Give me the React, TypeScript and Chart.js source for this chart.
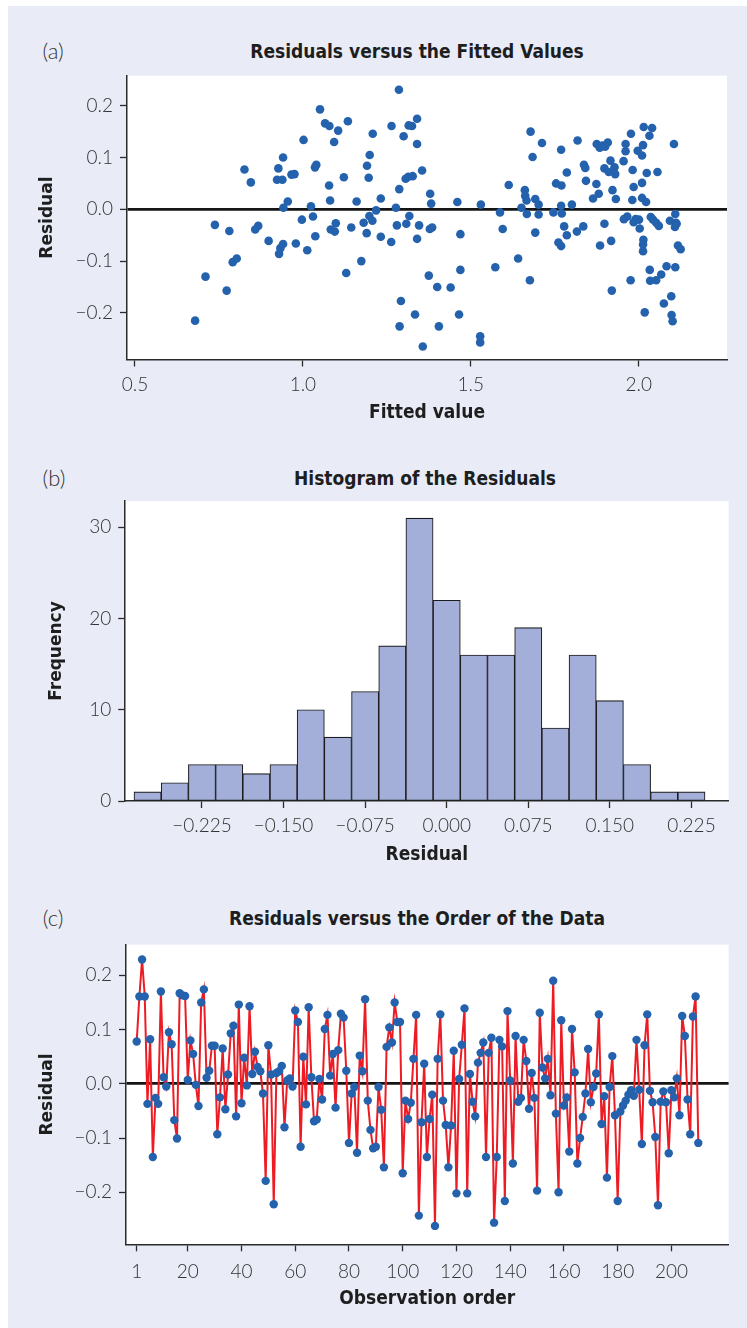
import React, { useEffect, useRef } from "react";
import { Chart, registerables } from "chart.js";

Chart.register(...registerables);

// (a) residuals against fitted values
const fittedValues = [
  0.679, 0.710, 0.773, 0.738, 0.781, 0.791, 0.803, 0.826, 0.845, 0.858,
  0.867, 0.898, 0.927, 0.941, 0.923, 0.939, 0.966, 0.975, 0.955, 0.942,
  0.941, 0.933, 0.929, 0.979, 0.997, 1.013, 1.002, 1.024, 1.030, 1.037,
  1.036, 1.040, 1.051, 1.066, 1.079, 1.105, 1.093, 1.078, 1.081, 1.083,
  1.095, 1.098, 1.122, 1.134, 1.129, 1.144, 1.160, 1.174, 1.181, 1.190,
  1.198, 1.207, 1.191, 1.199, 1.196, 1.208, 1.218, 1.232, 1.232, 1.263,
  1.264, 1.277, 1.280, 1.287, 1.286, 1.292, 1.288, 1.300, 1.308, 1.306,
  1.314, 1.327, 1.315, 1.325, 1.340, 1.340, 1.355, 1.317, 1.346, 1.340,
  1.357, 1.334, 1.375, 1.379, 1.382, 1.378, 1.385, 1.400, 1.405,
  1.440, 1.460, 1.469, 1.469, 1.465, 1.528, 1.528, 1.530, 1.573, 1.587,
  1.595, 1.613, 1.641, 1.651, 1.661, 1.662, 1.666, 1.667, 1.676, 1.678,
  1.684, 1.692, 1.692, 1.702, 1.702, 1.712, 1.746, 1.754, 1.761, 1.769,
  1.770, 1.769, 1.769, 1.771, 1.778, 1.786, 1.786, 1.801, 1.818, 1.816,
  1.835, 1.837, 1.841, 1.843, 1.864, 1.874, 1.881, 1.885, 1.875, 1.884,
  1.892, 1.900, 1.908, 1.898, 1.898, 1.916, 1.918, 1.920, 1.922, 1.911,
  1.928, 1.930, 1.932, 1.955, 1.956, 1.961, 1.961, 1.966, 1.976, 1.977,
  1.982, 1.985, 1.981, 1.985, 1.991, 2.001, 2.003, 1.997, 2.010, 2.010,
  2.013, 2.015, 2.010, 2.022, 2.014, 2.013, 2.013, 2.018, 2.024, 2.032,
  2.033, 2.034, 2.040, 2.036, 2.043, 2.052, 2.056, 2.060, 2.052, 2.067,
  2.075, 2.083, 2.093, 2.097, 2.098, 2.101, 2.105, 2.109, 2.111, 2.108,
  2.109, 2.117, 2.125, 2.113,
];
const fittedResiduals = [
  -0.215, -0.130, -0.157, -0.030, -0.042, -0.102, -0.095, 0.077, 0.052, -0.039,
  -0.032, -0.061, 0.079, 0.100, 0.057, 0.057, 0.067, 0.068, 0.015, 0.003,
  -0.067, -0.075, -0.086, -0.066, -0.020, -0.079, 0.134, 0.006, -0.014, -0.052,
  0.081, 0.086, 0.193, 0.166, 0.161, 0.152, 0.130, 0.046, 0.017, -0.039,
  -0.043, -0.027, 0.062, 0.170, -0.123, -0.035, 0.015, -0.100, -0.026, -0.046,
  -0.013, -0.022, 0.084, 0.105, 0.061, 0.146, -0.002, 0.021, -0.053, -0.063,
  0.161, 0.003, -0.031, 0.039, 0.231, -0.177, -0.226, 0.141, -0.028, 0.059,
  0.063, 0.064, 0.162, 0.161, 0.175, 0.126, 0.075, -0.013, -0.031, -0.057,
  -0.265, -0.203, -0.128, 0.030, 0.011, -0.038, -0.035, -0.150, -0.226,
  -0.151, 0.014, -0.048, -0.117, -0.203, -0.245, -0.257, 0.009, -0.112, -0.006,
  -0.038, 0.047, -0.095, 0.003, 0.037, 0.026, 0.017, -0.009, -0.137, 0.150,
  0.101, 0.020, -0.045, 0.009, -0.010, 0.128, -0.006, 0.050, -0.064, -0.071,
  0.046, 0.115, 0.007, -0.008, -0.033, -0.050, 0.071, 0.009, 0.133, -0.043,
  -0.033, 0.086, 0.080, 0.055, 0.021, 0.049, 0.030, -0.070, 0.126, 0.119,
  0.123, 0.121, 0.129, -0.028, 0.079, 0.094, -0.061, -0.157, 0.037, 0.072,
  0.081, 0.068, 0.020, 0.093, -0.019, 0.126, 0.112, -0.014, -0.137, 0.146,
  0.076, 0.043, 0.018, -0.025, -0.019, -0.020, -0.037, 0.113, 0.104, 0.051,
  0.124, 0.159, 0.022, 0.014, -0.059, -0.068, -0.081, -0.199, 0.070, 0.142,
  -0.117, -0.138, 0.157, -0.015, -0.020, -0.026, 0.072, -0.032, -0.137, -0.126,
  -0.182, -0.110, -0.022, -0.168, -0.204, -0.216, 0.126, -0.009, -0.026, -0.034,
  -0.112, -0.070, -0.077, -0.028,
];

// (b) histogram bins (centres) and counts
const histBinCenters = [
  -0.275, -0.25, -0.225, -0.2, -0.175, -0.15, -0.125, -0.1, -0.075, -0.05, -0.025,
  0, 0.025, 0.05, 0.075, 0.1, 0.125, 0.15, 0.175, 0.2, 0.225,
];
const histCounts = [1, 2, 4, 4, 3, 4, 10, 7, 12, 17, 31, 22, 16, 16, 19, 8, 16, 11, 4, 1, 1];

// (c) residuals in observation order
const orderResiduals = [
  0.078, 0.161, 0.229, 0.161, -0.037, 0.082, -0.135, -0.026, -0.037, 0.170,
  0.012, -0.005, 0.095, 0.073, -0.067, -0.101, 0.167, 0.163, 0.162, 0.007,
  0.080, 0.055, -0.002, -0.041, 0.150, 0.174, 0.011, 0.024, 0.070, 0.070,
  -0.093, -0.025, 0.065, -0.047, 0.017, 0.093, 0.107, -0.060, 0.146, -0.036,
  0.048, -0.003, 0.143, 0.018, 0.059, 0.031, 0.023, -0.018, -0.179, 0.071,
  0.017, -0.222, 0.020, 0.023, 0.033, -0.080, 0.006, 0.010, -0.005, 0.135,
  0.114, -0.116, 0.050, -0.038, 0.141, 0.012, -0.069, -0.066, 0.009, -0.029,
  0.101, 0.127, 0.015, 0.055, -0.044, 0.062, 0.129, 0.122, 0.024, -0.109,
  -0.018, -0.006, -0.127, 0.052, 0.023, 0.156, -0.031, -0.085, -0.119, -0.116,
  -0.006, -0.048, -0.154, 0.068, 0.104, 0.076, 0.150, 0.114, 0.114, -0.165,
  -0.031, -0.065, -0.035, 0.046, 0.127, -0.243, -0.071, 0.037, -0.135, -0.065,
  -0.020, -0.262, 0.046, 0.128, -0.031, -0.076, -0.154, -0.077, 0.061, -0.202,
  0.009, 0.072, 0.139, -0.202, 0.018, -0.033, -0.060, 0.039, 0.057, 0.076,
  -0.135, 0.057, 0.085, -0.256, -0.135, 0.081, 0.069, -0.216, 0.134, 0.006,
  -0.147, 0.088, -0.033, -0.026, 0.081, 0.042, -0.046, 0.020, -0.026, -0.197,
  0.131, 0.030, 0.010, 0.046, -0.021, 0.190, -0.055, -0.200, 0.117, -0.040,
  -0.025, -0.125, 0.101, 0.021, -0.147, -0.100, -0.061, -0.018, 0.064, -0.034,
  -0.006, 0.019, 0.128, -0.074, -0.023, -0.173, -0.006, 0.051, -0.058, -0.216,
  -0.051, -0.040, -0.031, -0.020, -0.012, -0.022, 0.081, -0.011, -0.111, 0.071,
  0.128, -0.013, -0.034, -0.098, -0.224, -0.033, -0.014, -0.034, -0.128, -0.012,
  -0.025, 0.010, -0.058, 0.125, 0.088, -0.029, -0.093, 0.124, 0.161, -0.109,
];

// Tick positions
const fittedTicks = [0.5, 1.0, 1.5, 2.0];
const residualTicks = [-0.2, -0.1, 0, 0.1, 0.2];
const histTicks = [-0.225, -0.15, -0.075, 0, 0.075, 0.15, 0.225];
const freqTicks = [0, 10, 20, 30];
const orderTicks = [1, 20, 40, 60, 80, 100, 120, 140, 160, 180, 200];

const PANEL_BG = "#e9ecf6";
const AXIS_COLOR = "#2b2b2b";
const DOT_BLUE = "#2462ad";
const LINE_RED = "#ed1c24";
const BAR_FILL = "#a3afd9";

const TICK_FONT = { family: "Lato", size: 19, weight: "300" as const };
const XTITLE_FONT = {
  family: "'DejaVu Sans Condensed', 'DejaVu Sans'",
  size: 19,
  weight: "bold" as const,
};
const YTITLE_FONT = { family: "'DejaVu Sans'", size: 17, weight: "bold" as const };

const withMinus = (s: string) => s.replace("-", "\u2212");
const fixed = (d: number) => (v: number | string) => withMinus(Number(v).toFixed(d));

// fills the plotting region white so the lavender panel shows around it
const plotBackground = {
  id: "plotBackground",
  beforeDraw(chart: any) {
    const { ctx, chartArea: a } = chart;
    ctx.save();
    ctx.fillStyle = "#ffffff";
    ctx.fillRect(a.left, a.top, a.right - a.left, a.bottom - a.top);
    ctx.restore();
  },
};

type AxisSpec = {
  horizontal: boolean;
  min: number;
  max: number;
  ticks: number[];
  fmt: (v: number | string) => string;
  size: number;
  labelPad: number;
  title: string;
  titlePad: number;
  zeroLine?: boolean;
};

function makeAxis(s: AxisSpec) {
  return {
    type: "linear",
    min: s.min,
    max: s.max,
    offset: false,
    afterBuildTicks: (scale: any) => {
      scale.ticks = s.ticks.map((v) => ({ value: v }));
    },
    afterFit: (scale: any) => {
      if (s.horizontal) scale.height = s.size;
      else scale.width = s.size;
    },
    ticks: {
      autoSkip: false,
      maxRotation: 0,
      minRotation: 0,
      padding: s.labelPad,
      color: "#333333",
      font: TICK_FONT,
      callback: (v: number | string) => s.fmt(v),
    },
    grid: {
      display: true,
      offset: false,
      drawOnChartArea: !!s.zeroLine,
      drawTicks: true,
      tickLength: 7,
      tickColor: AXIS_COLOR,
      tickWidth: 1.3,
      color: (c: any) =>
        s.zeroLine && c.tick && c.tick.value === 0 ? "#151515" : "rgba(0,0,0,0)",
      lineWidth: (c: any) => (s.zeroLine && c.tick && c.tick.value === 0 ? 2.8 : 1),
    },
    border: { display: true, color: AXIS_COLOR, width: 1.5 },
    title: {
      display: true,
      text: s.title,
      color: "#1e1e1e",
      font: s.horizontal ? XTITLE_FONT : YTITLE_FONT,
      padding: s.horizontal ? { top: 0, bottom: s.titlePad } : { top: s.titlePad, bottom: 0 },
    },
  };
}

function baseOptions(padding: { top: number; right: number }, x: any, y: any) {
  return {
    responsive: false,
    animation: false as const,
    devicePixelRatio: 1,
    events: [] as any[],
    layout: { padding: { left: 0, bottom: 0, top: padding.top, right: padding.right } },
    plugins: {
      legend: { display: false },
      tooltip: { enabled: false },
      title: { display: false },
    },
    scales: { x, y },
  };
}

function fittedConfig(): any {
  return {
    type: "scatter",
    data: {
      datasets: [
        {
          data: fittedValues.map((f, i) => ({ x: f, y: fittedResiduals[i] })),
          backgroundColor: DOT_BLUE,
          borderWidth: 0,
          pointRadius: 4.3,
        },
      ],
    },
    options: baseOptions(
      { top: 25.7, right: 20 },
      makeAxis({
        horizontal: true, min: 0.4762, max: 2.263, ticks: fittedTicks, fmt: fixed(1),
        size: 70.5, labelPad: 7, title: "Fitted value", titlePad: 5.6,
      }),
      makeAxis({
        horizontal: false, min: -0.29, max: 0.258, ticks: residualTicks, fmt: fixed(1),
        size: 127, labelPad: 7, title: "Residual", titlePad: 37.8, zeroLine: true,
      })
    ),
    plugins: [plotBackground],
  };
}

function histogramConfig(): any {
  return {
    type: "bar",
    data: {
      datasets: [
        {
          data: histBinCenters.map((c, i) => ({ x: c, y: histCounts[i] })),
          backgroundColor: BAR_FILL,
          borderColor: "#1c1c1c",
          borderWidth: 1.1,
          borderSkipped: false,
          barPercentage: 1,
          categoryPercentage: 1,
        },
      ],
    },
    options: baseOptions(
      { top: 25, right: 18.4 },
      makeAxis({
        horizontal: true, min: -0.2956, max: 0.2592, ticks: histTicks, fmt: fixed(3),
        size: 69, labelPad: 6, title: "Residual", titlePad: 3.6,
      }),
      makeAxis({
        horizontal: false, min: 0, max: 32.88, ticks: freqTicks, fmt: fixed(0),
        size: 125.2, labelPad: 7, title: "Frequency", titlePad: 46.8,
      })
    ),
    plugins: [plotBackground],
  };
}

function orderConfig(): any {
  return {
    type: "line",
    data: {
      datasets: [
        {
          data: orderResiduals.map((r, i) => ({ x: i + 1, y: r })),
          borderColor: LINE_RED,
          borderWidth: 2,
          tension: 0,
          pointBackgroundColor: DOT_BLUE,
          pointBorderWidth: 0,
          pointRadius: 4.2,
        },
      ],
    },
    options: baseOptions(
      { top: 24.7, right: 18.4 },
      makeAxis({
        horizontal: true, min: -2.98, max: 221.28, ticks: orderTicks, fmt: fixed(0),
        size: 75.7, labelPad: 9, title: "Observation order", titlePad: 9.6,
      }),
      makeAxis({
        horizontal: false, min: -0.2959, max: 0.2564, ticks: residualTicks, fmt: fixed(1),
        size: 126, labelPad: 7, title: "Residual", titlePad: 37.8, zeroLine: true,
      })
    ),
    plugins: [plotBackground],
  };
}

const panelLabelStyle: React.CSSProperties = {
  position: "absolute",
  transform: "translate(-50%, -50%)",
  fontFamily: "Lato, 'Open Sans', sans-serif",
  fontWeight: 300,
  fontSize: 22,
  lineHeight: 1,
  color: "#333333",
  whiteSpace: "nowrap",
};

const titleStyle: React.CSSProperties = {
  position: "absolute",
  transform: "translate(-50%, -50%)",
  fontFamily: "'DejaVu Sans Condensed', 'DejaVu Sans', sans-serif",
  fontStretch: "condensed",
  fontWeight: 700,
  fontSize: 19,
  lineHeight: 1,
  color: "#1e1e1e",
  whiteSpace: "nowrap",
};

export default function App() {
  const fittedRef = useRef<HTMLCanvasElement>(null);
  const histRef = useRef<HTMLCanvasElement>(null);
  const orderRef = useRef<HTMLCanvasElement>(null);

  useEffect(() => {
    const charts = [
      new Chart(fittedRef.current as HTMLCanvasElement, fittedConfig()),
      new Chart(histRef.current as HTMLCanvasElement, histogramConfig()),
      new Chart(orderRef.current as HTMLCanvasElement, orderConfig()),
    ];
    return () => charts.forEach((c) => c.destroy());
  }, []);

  return (
    <div
      style={{
        position: "absolute",
        left: 0,
        top: 0,
        width: 747,
        height: 1328,
        overflow: "hidden",
        background: "#ffffff",
      }}
    >
      <div
        style={{
          position: "absolute",
          left: 8,
          top: 6,
          width: 739,
          height: 1322,
          background: PANEL_BG,
        }}
      />

      <div style={{ ...panelLabelStyle, left: 53, top: 51 }}>(a)</div>
      <div style={{ ...titleStyle, left: 417, top: 51 }}>Residuals versus the Fitted Values</div>
      <canvas
        ref={fittedRef}
        width={747}
        height={380}
        style={{ position: "absolute", left: 0, top: 50, width: 747, height: 380 }}
      />

      <div style={{ ...panelLabelStyle, left: 54, top: 478 }}>(b)</div>
      <div style={{ ...titleStyle, left: 425, top: 478 }}>Histogram of the Residuals</div>
      <canvas
        ref={histRef}
        width={747}
        height={394}
        style={{ position: "absolute", left: 0, top: 476, width: 747, height: 394 }}
      />

      <div style={{ ...panelLabelStyle, left: 53, top: 918 }}>(c)</div>
      <div style={{ ...titleStyle, left: 417, top: 918 }}>Residuals versus the Order of the Data</div>
      <canvas
        ref={orderRef}
        width={747}
        height={400}
        style={{ position: "absolute", left: 0, top: 920, width: 747, height: 400 }}
      />
    </div>
  );
}
